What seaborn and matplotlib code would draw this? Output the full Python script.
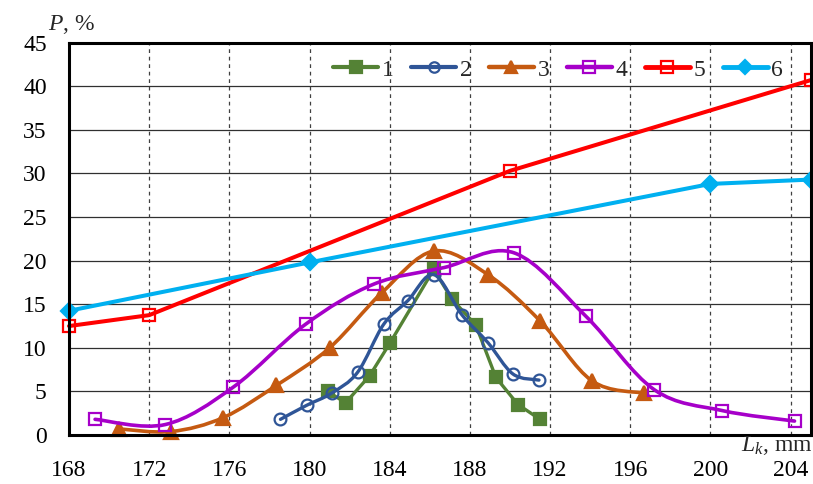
import numpy as np
import pandas as pd
import matplotlib
matplotlib.use("Agg")
import matplotlib.pyplot as plt
from matplotlib.path import Path
from matplotlib.patches import PathPatch
from matplotlib.lines import Line2D
import seaborn as sns

# Share P (%) of samples against length L_k (mm) for six groups
x1 = [180.9, 181.8, 183.0, 184.0, 186.2, 187.1, 188.3, 189.3, 190.4, 191.5]
y1 = [5.0, 3.7, 6.8, 10.5, 19.0, 15.6, 12.6, 6.6, 3.5, 1.8]

x2 = [178.55, 179.85, 181.1, 182.4, 183.7, 184.9, 186.2, 187.6, 188.9, 190.15, 191.45]
y2 = [1.8, 3.4, 4.8, 7.2, 12.7, 15.4, 18.4, 13.8, 10.6, 7.0, 6.3]

x3 = [170.5, 173.1, 175.7, 178.35, 181.0, 183.6, 186.2, 188.9, 191.5, 194.1, 196.7]
y3 = [0.7, 0.4, 2.0, 5.7, 10.0, 16.3, 21.1, 18.4, 13.1, 6.2, 4.8]

x4 = [169.3, 172.8, 176.2, 179.8, 183.2, 186.7, 190.2, 193.8, 197.2, 200.6, 204.2]
y4 = [1.8, 1.2, 5.5, 12.7, 17.3, 19.2, 20.9, 13.6, 5.2, 2.8, 1.6]

x5 = [168.0, 172.0, 190.0, 205.0]
y5 = [12.5, 13.75, 30.3, 40.7]

x6 = [168.0, 180.0, 200.0, 205.0]
y6 = [14.25, 19.8, 28.8, 29.3]

labels = ["1", "2", "3", "4", "5", "6"]
xs = [x1, x2, x3, x4, x5, x6]
ys = [y1, y2, y3, y4, y5, y6]

x_ticks = [168, 172, 176, 180, 184, 188, 192, 196, 200, 204]
y_ticks = [0, 5, 10, 15, 20, 25, 30, 35, 40, 45]

styles = {
    "1": dict(color="#548235", marker="s", filled=True, ms=9, lw=2.4, smooth=False),
    "2": dict(color="#2F5597", marker="o", filled=False, ms=8.5, lw=2.4, smooth=True),
    "3": dict(color="#C55A11", marker="^", filled=True, ms=10, lw=2.6, smooth=True),
    "4": dict(color="#A600C9", marker="s", filled=False, ms=9, lw=2.6, smooth=True),
    "5": dict(color="#FF0000", marker="s", filled=False, ms=9, lw=2.9, smooth=False),
    "6": dict(color="#00B0F0", marker="D", filled=True, ms=8, lw=2.9, smooth=False),
}

frames = [pd.DataFrame({"L": x, "P": y, "group": lab}) for lab, x, y in zip(labels, xs, ys)]
df = pd.concat(frames, ignore_index=True)

sns.set_theme(style="white")
plt.rcParams["font.family"] = ["Liberation Serif", "DejaVu Serif"]
plt.rcParams["mathtext.fontset"] = "custom"
plt.rcParams["mathtext.it"] = "Liberation Serif:italic"
plt.rcParams["mathtext.rm"] = "Liberation Serif"

fig = plt.figure(figsize=(8.13, 4.84), dpi=100)
ax = fig.add_axes([0.0849, 0.1012, 0.9121, 0.8106])


def smooth_path(xv, yv):
    """Cubic Bezier path through the points (Excel-style smoothed line)."""
    pts = np.column_stack([xv, yv])
    n = len(pts)
    verts = [pts[0]]
    codes = [Path.MOVETO]
    for i in range(n - 1):
        p0 = pts[i - 1] if i > 0 else pts[i]
        p1 = pts[i]
        p2 = pts[i + 1]
        p3 = pts[i + 2] if i + 2 < n else pts[i + 1]
        c1 = p1 + (p2 - p0) / 6.0
        c2 = p2 - (p3 - p1) / 6.0
        verts += [c1, c2, p2]
        codes += [Path.CURVE4] * 3
    return Path(verts, codes)


handles = []
for i, lab in enumerate(labels):
    st = styles[lab]
    sub = df[df["group"] == lab]
    z = 3 + i
    if st["smooth"]:
        patch = PathPatch(smooth_path(sub["L"].values, sub["P"].values),
                          fill=False, edgecolor=st["color"], lw=st["lw"],
                          zorder=z, capstyle="round", joinstyle="round")
        ax.add_patch(patch)
        ls = ""
    else:
        ls = "-"
    mfc = st["color"] if st["filled"] else "none"
    sns.lineplot(data=sub, x="L", y="P", ax=ax, color=st["color"],
                 linestyle=ls, linewidth=st["lw"], marker=st["marker"],
                 markersize=st["ms"], markerfacecolor=mfc,
                 markeredgecolor=st["color"], markeredgewidth=1.6,
                 zorder=z, clip_on=False, sort=False, estimator=None,
                 legend=False)
    handles.append(Line2D([0], [0], color=st["color"], lw=st["lw"] + 0.6,
                          marker=st["marker"], markersize=st["ms"] - 1,
                          markerfacecolor=mfc, markeredgecolor=st["color"],
                          markeredgewidth=1.6))

ax.set_xlim(168, 205)
ax.set_ylim(0, 45)
ax.set_xticks(x_ticks)
ax.set_yticks(y_ticks)
ax.set_xticklabels([str(t) for t in x_ticks])
ax.set_yticklabels([str(t) for t in y_ticks])
ax.set_xlabel("")
ax.set_ylabel("")

# grid: solid horizontal, dashed vertical
for yv in y_ticks[1:-1]:
    ax.axhline(yv, color="#303030", lw=0.9, zorder=1)
for xv in x_ticks[1:]:
    ax.axvline(xv, color="#404040", lw=0.9, ls=(0, (3, 3)), zorder=1)

for s in ax.spines.values():
    s.set_visible(True)
    s.set_color("black")
    s.set_linewidth(2.2)
    s.set_zorder(20)

ax.tick_params(axis="both", which="major", direction="out", length=7,
               width=1.8, color="black", labelsize=17, labelcolor="black")
ax.tick_params(axis="x", pad=11)
ax.tick_params(axis="y", pad=9)

fig.text(0.059, 0.925, r"$P$, %", fontsize=17, ha="left", va="bottom")
fig.text(1.0, 0.055, r"$L_k$, mm", fontsize=17, ha="right", va="bottom")

ax.legend(handles, labels, ncol=6, frameon=False, fontsize=17,
          loc="upper right", bbox_to_anchor=(0.985, 1.0),
          handlelength=1.9, handletextpad=0.15, columnspacing=0.75,
          borderaxespad=0.3)

fig.savefig("out.png", dpi=100)
